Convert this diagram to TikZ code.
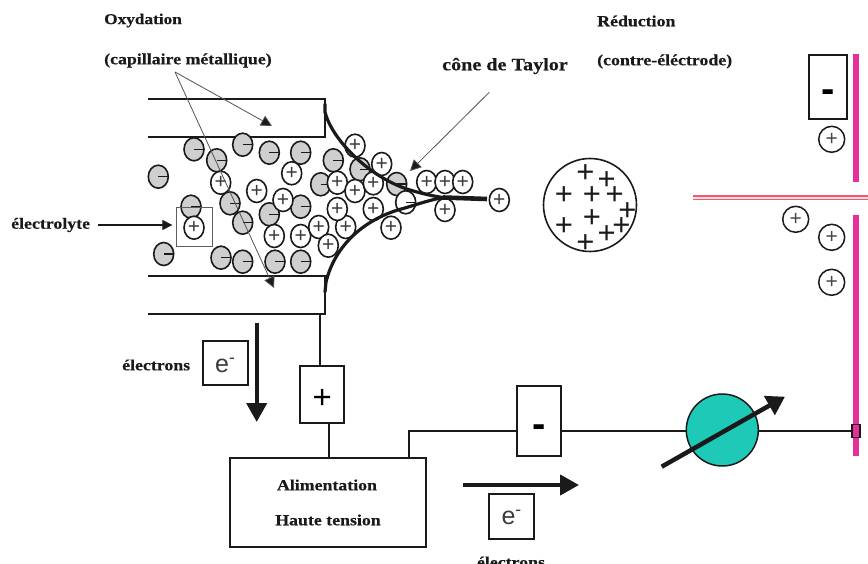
\documentclass[tikz,border=0pt]{standalone}
\usepackage{fontspec}
\setmainfont{Liberation Serif}
\newfontfamily\sansf{Liberation Sans}
\newfontfamily\labf[FakeStretch=1.15,FakeBold=0.5]{Liberation Serif Bold}
\usetikzlibrary{shapes.geometric,arrows.meta}
\definecolor{pinkbar}{HTML}{E5309C}
\definecolor{railred}{HTML}{EE5A70}
\definecolor{meterfill}{HTML}{1FC9B8}
\definecolor{ink}{HTML}{1A1A1A}
\definecolor{ionfill}{HTML}{CFCFCF}
\newcommand{\sunk}[2]{\raisebox{#1}[0pt][0pt]{#2}}
\tikzset{
  x=1pt,y=-1pt,
  wire/.style={draw=ink,line width=1.8pt},
  capwall/.style={draw=ink,line width=2pt},
  meniscus/.style={draw=ink,line width=3.2pt,line cap=round},
  pointer/.style={draw=ink!75,line width=0.8pt,-{Triangle[length=11pt,width=11pt,fill=ink]}},
  lead/.style={draw=ink,line width=1.2pt,-{Triangle[length=10pt,width=10pt]}},
  bigarrow/.style={draw=ink,line width=4.2pt,-{Triangle[length=19pt,width=20pt,fill=ink]}},
  label/.style={font=\labf\fontsize{15.5}{17}\selectfont,text=ink,inner sep=0pt,anchor=west},
  boxsign/.style={draw=ink,line width=1.8pt,fill=white,inner sep=0pt,font=\sansf},
  plusion/.style={ellipse,draw=ink,line width=1.6pt,fill=white,minimum width=20pt,minimum height=23pt,inner sep=0pt,font=\sansf\fontsize{21}{21}\selectfont,text=ink!85},
  minusion/.style={ellipse,draw=ink,line width=1.6pt,fill=ionfill,minimum width=20pt,minimum height=23pt,inner sep=0pt,
    path picture={\draw[ink,line width=1.2pt] (path picture bounding box.center) -- ++(11,0);}},
  freeion/.style={circle,draw=ink,line width=1.5pt,fill=white,minimum size=26pt,inner sep=0pt,font=\sansf\fontsize{21}{21}\selectfont,text=ink!80},
  dropplus/.style={inner sep=0pt,font=\sansf\fontsize{31}{31}\selectfont,text=ink},
}
\begin{document}
\begin{tikzpicture}
\useasboundingbox (0,0) rectangle (868,564);
% capillary walls
\coordinate (tl1) at (148,99); \coordinate (tr1) at (325,99);
\coordinate (tl2) at (148,137); \coordinate (tr2) at (325,137);
\coordinate (bl1) at (148,276); \coordinate (br1) at (325,276);
\coordinate (bl2) at (148,314); \coordinate (br2) at (325,314);
\draw[capwall] (tl1) -- (tr1) -- (tr2) -- (tl2);
\draw[capwall] (bl1) -- (br1) -- (br2) -- (bl2);
% ions
\foreach \x/\y [count=\i] in {194/149.3,242.7/144.7,269.3/152.7,300.7/152.7,216.7/160.3,158.3/176.7,333.3/160.3,320.7/184.3,230/203.3,242.7/222.7,191/206.7,269.3/214.3,300.7/206.7,163.7/254,221/257.7,242.7/261.7,275/261.7,300.7/261.7,360/169.3,396.7/184}
  \node[minusion] (m\i) at (\x,\y) {};
\foreach \x/\y [count=\i] in {220.7/182.7,291.7/173.3,256.7/191,283/200,194/227.7,274.3/236,300.7/236,318.7/227,328.3/245.7,345.7/227,337.3/209,337.3/182.7,355/191,373.3/209,373.3/183.3,355/145.7,381.7/164,426.7/182,445/182,462.7/182,445/210,391/227.7}
  \node[plusion] (p\i) at (\x,\y) {+};
\node[minusion,fill=white] (mw) at (405.7,202.3) {};
% meniscus (Taylor cone)
\coordinate (tip) at (487,199);
\coordinate (mt) at (443,197.5);
\draw[meniscus] (325,104) -- (325,112) .. controls (332,140) and (370,178) .. (410,190) .. controls (420,193) and (432,196) .. (mt);
\draw[meniscus] (325,292) -- (326,282) .. controls (335,245) and (365,218) .. (405,208) .. controls (418,204) and (430,200) .. (mt);
\draw[meniscus,line width=4.6pt,line cap=butt] (mt) -- (tip);
\node[plusion] (pt) at (499.3,200) {+};
% electrolyte
\node[draw=ink!70,line width=0.7pt,minimum width=35.6pt,minimum height=38.7pt,inner sep=0pt] (sq) at (194.5,226.7) {};
\node[label] (lelec) at (11,225) {électrolyte};
\coordinate (e0) at (98,225);
\draw[lead,shorten >=4pt] (e0) -- (e0 -| sq.west);
% titles
\node[label,font=\labf\fontsize{15}{17}\selectfont] (ox) at (104,20.5) {Oxydation};
\node[label] (cap) at (104,60.5) {(capillaire métallique)};
\node[label,font=\labf\fontsize{17.5}{19}\selectfont] (cone) at (442,66) {cône de Taylor};
\node[label] (red) at (597,21) {Réduction};
\node[label] (ce) at (597,61.5) {(contre-éléctrode)};
% pointers
\coordinate (cs) at (175,72);
\coordinate (a1) at (272,126); \coordinate (a2) at (274,288);
\draw[pointer] (cs) -- (a1);
\draw[pointer] (cs) -- (a2);
\coordinate (ts) at (489.3,92.3); \coordinate (te) at (410,171);
\draw[pointer] (ts) -- (te);
% droplet
\node[circle,draw=ink,line width=1.6pt,minimum size=93pt,inner sep=0pt] (drop) at (590,205) {};
\foreach \x/\y [count=\i] in {585.3/173.3,606.7/180.7,564/196,592/196,614.7/196,627.3/211.3,592/218.7,564/226.7,621.3/226.7,606.7/235,585.3/243.3}
  \node[dropplus] (d\i) at (\x,\y) {+};
% counter electrode
\coordinate (rail0) at (693,198); \coordinate (rail1) at (868,198);
\draw[railred,line width=5pt] (rail0) -- (rail1);
\draw[white!80!railred,line width=1.2pt] (rail0) -- (rail1);
\coordinate (e1) at (856,54); \coordinate (e2) at (856,181.7);
\coordinate (e3) at (856,215); \coordinate (e4) at (856,455.7);
\draw[pinkbar,line width=5.5pt] (e1) -- (e2);
\draw[pinkbar,line width=5.5pt] (e3) -- (e4);
\node[boxsign,minimum width=38pt,minimum height=64pt,font=\sansf\bfseries\fontsize{40}{40}\selectfont] (cbox) at (828.3,86.7) {\sunk{-16pt}{-}};
\node[freeion] (f1) at (831.7,139.3) {+};
\node[freeion] (f2) at (795.7,219.3) {+};
\node[freeion] (f3) at (831.7,237.3) {+};
\node[freeion] (f4) at (831.7,282.3) {+};
% power circuit
\node[boxsign,minimum width=196.6pt,minimum height=89.3pt] (psu) at (328,502.3) {};
\node[inner sep=0pt,font=\labf\fontsize{15.5}{17}\selectfont,text=ink] (psu1) at (327,485) {Alimentation};
\node[inner sep=0pt,font=\labf\fontsize{15.5}{17}\selectfont,text=ink] (psu2) at (328,520) {Haute tension};
\node[boxsign,minimum width=44.3pt,minimum height=57.3pt,font=\sansf\fontsize{33}{33}\selectfont] (pbox) at (322.2,394.7) {\sunk{-14pt}{+}};
\node[boxsign,minimum width=44.3pt,minimum height=70pt,font=\sansf\bfseries\fontsize{40}{40}\selectfont] (nbox) at (538.8,420.7) {\sunk{-17pt}{-}};
\node[circle,draw=ink,line width=1.5pt,fill=meterfill,minimum size=72pt,inner sep=0pt] (meter) at (722.3,430) {};
\coordinate (j1) at (319.7,314); \coordinate (j2) at (328.7,423); \coordinate (j3) at (409,457.7);
\coordinate (j4) at (409,430.7); \coordinate (term) at (856,430.7);
\draw[wire] (j1) -- (j1 |- pbox.north);
\draw[wire] (j2) -- (j2 |- psu.north);
\draw[wire] (j3) -- (j4) -- (j4 -| nbox.west);
\draw[wire] (nbox.east |- j4) -- (j4 -| meter.west);
\draw[wire] (j4 -| meter.east) -- (term);
\node[draw=ink,line width=1.2pt,fill=pinkbar,minimum width=8pt,minimum height=13.5pt,inner sep=0pt] (tick) at (856,431) {};
% meter arrow
\coordinate (ma0) at (661.7,466.7); \coordinate (ma1) at (785,396.7);
\draw[draw=ink,line width=4.5pt,-{Triangle[length=18pt,width=21pt,fill=ink]}] (ma0) -- (ma1);
% electron flow
\node[label] (le1) at (122,365) {électrons};
\node[boxsign,minimum width=45pt,minimum height=44.3pt,font=\sansf\fontsize{25}{25}\selectfont,text=ink!85] (eb1) at (225.3,362.8) {\sunk{-10pt}{e\textsuperscript{-}}};
\coordinate (da0) at (256.7,323); \coordinate (da1) at (256.7,422);
\draw[bigarrow] (da0) -- (da1);
\coordinate (ra0) at (463,485); \coordinate (ra1) at (579,485);
\draw[bigarrow] (ra0) -- (ra1);
\node[boxsign,minimum width=44.7pt,minimum height=45.6pt,font=\sansf\fontsize{25}{25}\selectfont,text=ink!85] (eb2) at (511.7,516.5) {\sunk{-8pt}{e\textsuperscript{-}}};
\node[label,anchor=center] (le2) at (511,562) {électrons};
\end{tikzpicture}
\end{document}
